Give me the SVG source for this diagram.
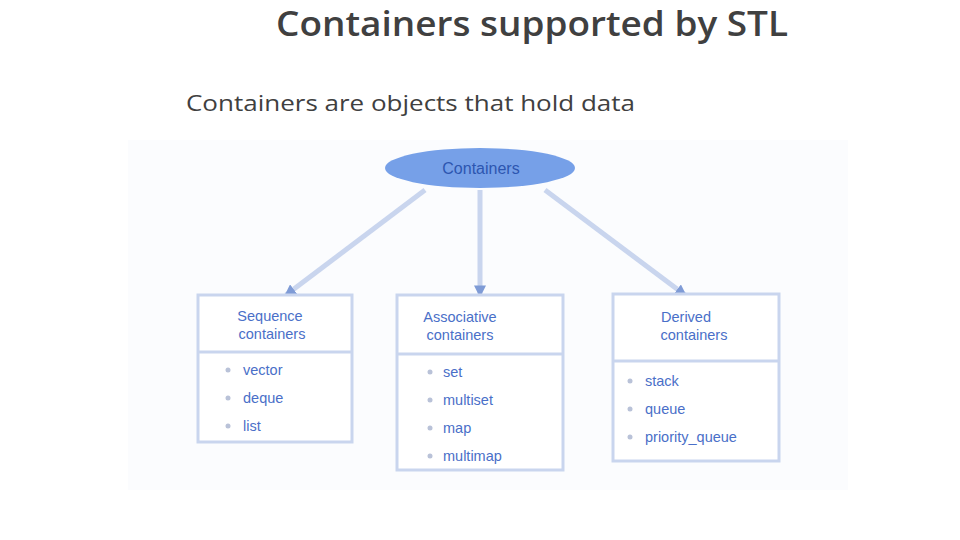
<svg xmlns="http://www.w3.org/2000/svg" width="960" height="540" viewBox="0 0 960 540">
<style>
.title{font-family:"Open Sans","Liberation Sans",sans-serif;font-size:34px;font-weight:600;fill:#404040}
.sub{font-family:"Open Sans","Liberation Sans",sans-serif;font-size:22px;fill:#404040}
.box{fill:#ffffff;stroke:#c9d5ee;stroke-width:3}
.div{stroke:#c9d5ee;stroke-width:3}
.hd{font-family:"Liberation Sans",sans-serif;font-size:14.5px;fill:#4a6fc8;text-anchor:middle}
.it{font-family:"Liberation Sans",sans-serif;font-size:14.5px;fill:#4a6fc8}
.bul{fill:#b9c2d8}
.con{stroke:#c9d5ee;stroke-width:5;fill:none}
</style>
<defs>
<marker id="ar" viewBox="0 0 10 10" refX="8" refY="5" markerWidth="2.4" markerHeight="2.4" orient="auto">
<path d="M0,0 L10,5 L0,10 z" fill="#7f9bd6"/>
</marker>
</defs>
<rect width="960" height="540" fill="#ffffff"/>
<rect x="128" y="140" width="720" height="350" fill="#fbfcfe"/>
<text class="title" x="532" y="36" text-anchor="middle" textLength="512" lengthAdjust="spacingAndGlyphs">Containers supported by STL</text>
<text class="sub" x="186" y="111" textLength="449" lengthAdjust="spacingAndGlyphs">Containers are objects that hold data</text>
<g id="connectors">
<line class="con" x1="425" y1="190" x2="286" y2="295" marker-end="url(#ar)"/>
<line class="con" x1="480" y1="190" x2="480" y2="295" marker-end="url(#ar)"/>
<line class="con" x1="545" y1="190" x2="685" y2="295" marker-end="url(#ar)"/>
</g>
<g id="root">
<ellipse cx="480" cy="168" rx="95" ry="20" fill="#76a0e8"/>
<text x="481" y="174" class="hd" style="fill:#2d56b0;font-size:16px">Containers</text>
</g>
<g id="sequence">
<rect class="box" x="198" y="295" width="154" height="147"/>
<line class="div" x1="198" y1="352" x2="352" y2="352"/>
<text class="hd" x="270" y="321">Sequence</text>
<text class="hd" x="272" y="339">containers</text>
<circle class="bul" cx="228" cy="370" r="2.5"/><text class="it" x="243" y="375">vector</text>
<circle class="bul" cx="228" cy="398" r="2.5"/><text class="it" x="243" y="403">deque</text>
<circle class="bul" cx="228" cy="426" r="2.5"/><text class="it" x="243" y="431">list</text>
</g>
<g id="associative">
<rect class="box" x="397" y="295" width="166" height="175"/>
<line class="div" x1="397" y1="354" x2="563" y2="354"/>
<text class="hd" x="460" y="322">Associative</text>
<text class="hd" x="460" y="340">containers</text>
<circle class="bul" cx="430" cy="372" r="2.5"/><text class="it" x="443" y="377">set</text>
<circle class="bul" cx="430" cy="400" r="2.5"/><text class="it" x="443" y="405">multiset</text>
<circle class="bul" cx="430" cy="428" r="2.5"/><text class="it" x="443" y="433">map</text>
<circle class="bul" cx="430" cy="456" r="2.5"/><text class="it" x="443" y="461">multimap</text>
</g>
<g id="derived">
<rect class="box" x="613" y="294" width="166" height="167"/>
<line class="div" x1="613" y1="361" x2="779" y2="361"/>
<text class="hd" x="686" y="322">Derived</text>
<text class="hd" x="694" y="340">containers</text>
<circle class="bul" cx="630" cy="381" r="2.5"/><text class="it" x="645" y="386">stack</text>
<circle class="bul" cx="630" cy="409" r="2.5"/><text class="it" x="645" y="414">queue</text>
<circle class="bul" cx="630" cy="437" r="2.5"/><text class="it" x="645" y="442">priority_queue</text>
</g>
</svg>
